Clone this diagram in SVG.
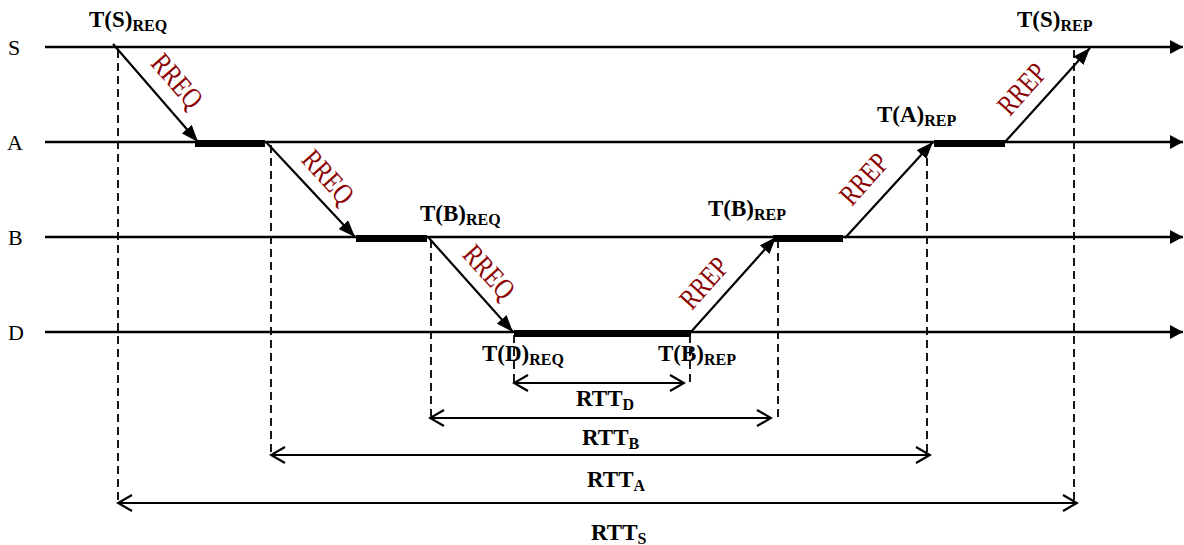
<svg xmlns="http://www.w3.org/2000/svg" width="1184" height="545" viewBox="0 0 1184 545">
<style>
.axis{stroke:#000;stroke-width:2.5;fill:none}
.bar{fill:#000}
.msg{stroke:#000;stroke-width:2.2;fill:none}
.dash{stroke:#000;stroke-width:1.8;stroke-dasharray:8 5;fill:none}
.dim{stroke:#000;stroke-width:2.2;fill:none}
.lbl{font-family:"Liberation Serif","Times New Roman",serif;font-size:22px;fill:#000}
.t{font-family:"Liberation Serif","Times New Roman",serif;font-size:23px;font-weight:bold;fill:#000}
.sub{font-size:16px}
.red{font-family:"Liberation Serif","Times New Roman",serif;font-size:29px;fill:#8B0000}
</style>
<defs>
<marker id="ax" viewBox="0 0 13 14" refX="13" refY="7" markerWidth="13" markerHeight="14" orient="auto" markerUnits="userSpaceOnUse"><path d="M0,0 L13,7 L0,14 z" fill="#000"/></marker>
<marker id="tri" viewBox="0 0 17 13" refX="17" refY="6.5" markerWidth="17" markerHeight="13" orient="auto" markerUnits="userSpaceOnUse"><path d="M0,0 L17,6.5 L0,13 z" fill="#000"/></marker>
<marker id="chev" viewBox="-16 -10 18 20" refX="0" refY="0" markerWidth="18" markerHeight="20" orient="auto-start-reverse" markerUnits="userSpaceOnUse"><path d="M-14,-8 L0,0 L-14,8" fill="none" stroke="#000" stroke-width="2.2"/></marker>
</defs>

<g id="node-S">
<text class="lbl" x="8" y="55">S</text>
<line class="axis" x1="45" y1="47" x2="1183" y2="47" marker-end="url(#ax)"/>
</g>
<g id="node-A">
<text class="lbl" x="7" y="150">A</text>
<line class="axis" x1="45" y1="142" x2="1183" y2="142" marker-end="url(#ax)"/>
<rect class="bar" x="195" y="140" width="70" height="7"/>
<rect class="bar" x="934" y="140" width="71" height="7"/>
</g>
<g id="node-B">
<text class="lbl" x="8" y="245">B</text>
<line class="axis" x1="45" y1="237" x2="1183" y2="237" marker-end="url(#ax)"/>
<rect class="bar" x="356" y="235" width="71" height="7"/>
<rect class="bar" x="773" y="235" width="70" height="7"/>
</g>
<g id="node-D">
<text class="lbl" x="8" y="340">D</text>
<line class="axis" x1="45" y1="332" x2="1183" y2="332" marker-end="url(#ax)"/>
<rect class="bar" x="514" y="330" width="177" height="7"/>
</g>

<g id="connectors">
<line class="msg" x1="113" y1="44" x2="198" y2="142" marker-end="url(#tri)"/>
<line class="msg" x1="266" y1="142" x2="355" y2="237" marker-end="url(#tri)"/>
<line class="msg" x1="428" y1="237" x2="513" y2="332" marker-end="url(#tri)"/>
<line class="msg" x1="690" y1="333" x2="776" y2="237" marker-end="url(#tri)"/>
<line class="msg" x1="845" y1="238" x2="933" y2="142" marker-end="url(#tri)"/>
<line class="msg" x1="1005" y1="142" x2="1090" y2="48" marker-end="url(#tri)"/>

<line class="dash" x1="118" y1="50" x2="118" y2="503"/>
<line class="dash" x1="271" y1="145" x2="271" y2="455"/>
<line class="dash" x1="431" y1="240" x2="431" y2="418"/>
<line class="dash" x1="514" y1="335" x2="514" y2="383"/>
<line class="dash" x1="690" y1="335" x2="690" y2="383"/>
<line class="dash" x1="778" y1="240" x2="778" y2="418"/>
<line class="dash" x1="927" y1="145" x2="927" y2="455"/>
<line class="dash" x1="1074" y1="50" x2="1074" y2="503"/>

<line class="dim" x1="514" y1="383" x2="684" y2="383" marker-start="url(#chev)" marker-end="url(#chev)"/>
<line class="dim" x1="430" y1="418" x2="771" y2="418" marker-start="url(#chev)" marker-end="url(#chev)"/>
<line class="dim" x1="271" y1="455" x2="930" y2="455" marker-start="url(#chev)" marker-end="url(#chev)"/>
<line class="dim" x1="118" y1="503" x2="1077" y2="503" marker-start="url(#chev)" marker-end="url(#chev)"/>
</g>

<g id="msg-labels">
<text class="red" text-anchor="middle" y="9.5" transform="translate(177,81) rotate(49) scale(0.8,1)">RREQ</text>
<text class="red" text-anchor="middle" y="9.5" transform="translate(328,177) rotate(48) scale(0.8,1)">RREQ</text>
<text class="red" text-anchor="middle" y="9.5" transform="translate(489,272) rotate(48) scale(0.8,1)">RREQ</text>
<text class="red" text-anchor="middle" y="9.5" transform="translate(704,283) rotate(-48) scale(0.8,1)">RREP</text>
<text class="red" text-anchor="middle" y="9.5" transform="translate(864,179) rotate(-48) scale(0.8,1)">RREP</text>
<text class="red" text-anchor="middle" y="9.5" transform="translate(1022,89) rotate(-48) scale(0.8,1)">RREP</text>
</g>

<g id="time-labels">
<text class="t" x="89" y="27">T(S)<tspan class="sub" dy="4">REQ</tspan></text>
<text class="t" x="1017" y="27">T(S)<tspan class="sub" dy="4">REP</tspan></text>
<text class="t" x="877" y="122">T(A)<tspan class="sub" dy="4">REP</tspan></text>
<text class="t" x="420" y="221">T(B)<tspan class="sub" dy="4">REQ</tspan></text>
<text class="t" x="708" y="216">T(B)<tspan class="sub" dy="4">REP</tspan></text>
<text class="t" x="482" y="361">T(D)<tspan class="sub" dy="4">REQ</tspan></text>
<text class="t" x="658" y="361">T(B)<tspan class="sub" dy="4">REP</tspan></text>
<text class="t" x="576" y="406">RTT<tspan class="sub" dy="4">D</tspan></text>
<text class="t" x="582" y="445">RTT<tspan class="sub" dy="4">B</tspan></text>
<text class="t" x="587" y="487">RTT<tspan class="sub" dy="4">A</tspan></text>
<text class="t" x="591" y="540">RTT<tspan class="sub" dy="4">S</tspan></text>
</g>
</svg>
